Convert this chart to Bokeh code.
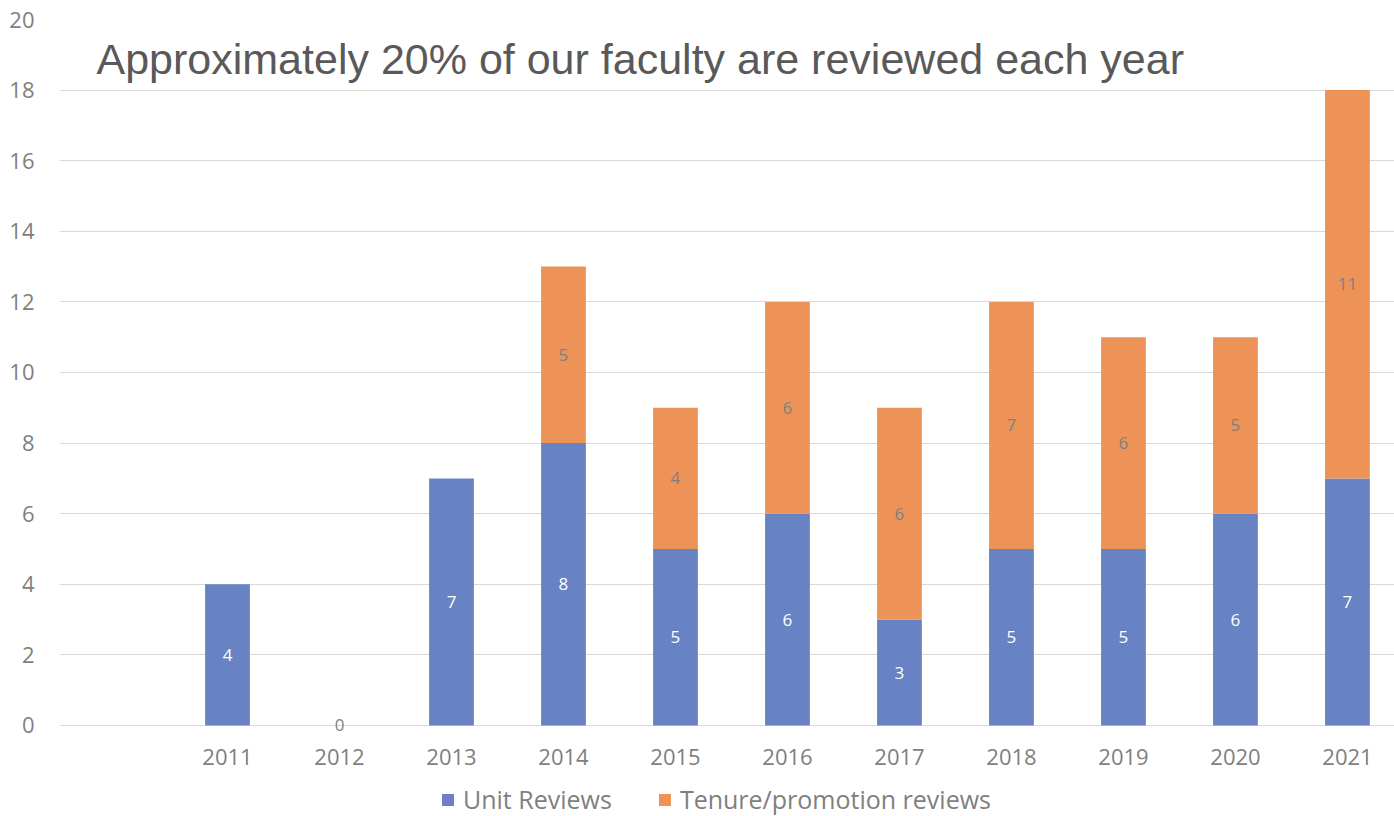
from bokeh.plotting import figure
from bokeh.models import ColumnDataSource, Range1d, FixedTicker, Legend, LegendItem, Label, LabelSet
from bokeh.core.properties import value
from bokeh.embed import file_html
from bokeh.resources import INLINE

years = [2011, 2012, 2013, 2014, 2015, 2016, 2017, 2018, 2019, 2020, 2021]
unit_reviews = [4, 0, 7, 8, 5, 6, 3, 5, 5, 6, 7]
tenure_reviews = [0, 0, 0, 5, 4, 6, 6, 7, 6, 5, 11]
tenure_shown = [False, False, False, True, True, True, True, True, True, True, True]
y_ticks = [0, 2, 4, 6, 8, 10, 12, 14, 16, 18, 20]
title_text = "Approximately 20% of our faculty are reviewed each year"

BLUE = "#6783C3"
ORANGE = "#EE9357"
GREY = "#7F7F7F"
FONT = "Open Sans"

src = ColumnDataSource(dict(
    x=years, unit=unit_reviews, tenure=tenure_reviews,
    top_total=[u + t for u, t in zip(unit_reviews, tenure_reviews)],
    zero=[0] * len(years),
))

# frame extends below the zero line so the axis labels and legend sit inside it
p = figure(width=1394, height=816, output_backend="svg", toolbar_location=None,
           x_range=Range1d(years[0] - 1.5, years[-1] + 0.42), y_range=Range1d(-2.578, 20),
           min_border_left=59, min_border_right=0, min_border_top=19, min_border_bottom=0)
p.outline_line_color = None
p.background_fill_color = "white"
p.border_fill_color = "white"

r_unit = p.vbar(x="x", width=0.4, bottom="zero", top="unit", source=src,
                fill_color=BLUE, line_color=None)
r_ten = p.vbar(x="x", width=0.4, bottom="unit", top="top_total", source=src,
               fill_color=ORANGE, line_color=None)

unit_white = ColumnDataSource(dict(
    x=[x for x, u in zip(years, unit_reviews) if u > 0],
    y=[u / 2 for u in unit_reviews if u > 0],
    t=[str(u) for u in unit_reviews if u > 0]))
unit_zero = ColumnDataSource(dict(
    x=[x for x, u in zip(years, unit_reviews) if u == 0],
    y=[0 for u in unit_reviews if u == 0],
    t=[str(u) for u in unit_reviews if u == 0]))
ten_src = ColumnDataSource(dict(
    x=[x for x, s in zip(years, tenure_shown) if s],
    y=[u + t / 2 for u, t, s in zip(unit_reviews, tenure_reviews, tenure_shown) if s],
    t=[str(t) for t, s in zip(tenure_reviews, tenure_shown) if s]))

for s, c in ((unit_white, "white"), (unit_zero, GREY), (ten_src, GREY)):
    p.add_layout(LabelSet(x="x", y="y", text="t", source=s, text_color=c,
                          text_font=value(FONT), text_font_size="17px", text_align="center",
                          text_baseline="middle"))

p.yaxis.ticker = FixedTicker(ticks=y_ticks)
p.xaxis.ticker = FixedTicker(ticks=years)
p.xaxis.fixed_location = 0
for ax in (p.xaxis, p.yaxis):
    ax.axis_line_color = None
    ax.major_tick_line_color = None
    ax.minor_tick_line_color = None
    ax.major_tick_out = 0
    ax.major_tick_in = 0
    ax.minor_tick_out = 0
    ax.major_label_text_color = GREY
    ax.major_label_text_font = FONT
    ax.major_label_text_font_size = "22px"
p.yaxis.major_label_standoff = 25
p.xaxis.major_label_standoff = 24
p.xgrid.grid_line_color = None
p.ygrid.grid_line_color = "#D9D9D9"
p.ygrid.grid_line_width = 1

p.add_layout(Label(x=37, y=758, x_units="screen", y_units="screen",
                   text=title_text, text_font="Liberation Sans", text_font_size="43px",
                   text_color="#595959", text_baseline="alphabetic"))

legend = Legend(items=[LegendItem(label="Unit Reviews", renderers=[r_unit]),
                       LegendItem(label="Tenure/promotion reviews", renderers=[r_ten])],
                orientation="horizontal", location=(381, 0),
                label_text_font=FONT, label_text_font_size="25px", label_text_color=GREY,
                label_height=15, glyph_width=15, glyph_height=15, spacing=45, label_standoff=8,
                border_line_color=None, background_fill_alpha=0, margin=0, padding=0)
p.add_layout(legend, "center")

open("out.html", "w").write(file_html(p, INLINE))
